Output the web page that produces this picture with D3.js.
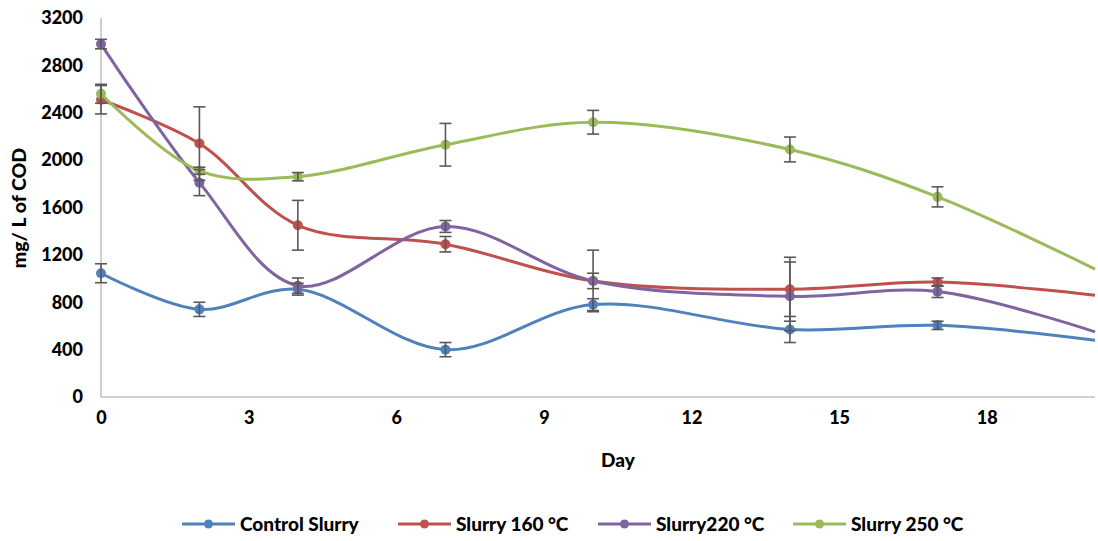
<html lang="en">
<head>
<style>
  body { margin: 0; background: #fff; }
  text { font-family: Lato, "Open Sans", sans-serif; font-weight: bold; fill: #000; }
</style>
</head>
<body>
<script src="https://d3js.org/d3.v7.min.js"></script>
<script>
    // data
    var days = [0, 2, 4, 7, 10, 14, 17, 20.2];
    var seriesNames = ["Control Slurry", "Slurry 160 \u00b0C", "Slurry220 \u00b0C", "Slurry 250 \u00b0C"];
    var control = [1045, 740, 910, 400, 780, 570, 605, 480];
    var slurry160 = [2510, 2140, 1450, 1290, 980, 910, 970, 860];
    var slurry220 = [2980, 1810, 940, 1440, 980, 850, 890, 550];
    var slurry250 = [2560, 1910, 1860, 2130, 2320, 2090, 1690, 1080];
    // error bars (+/-), last value has none
    var controlErr = [80, 60, 50, 60, 50, 110, 35, 0];
    var slurry160Err = [120, 310, 210, 65, 260, 270, 35, 0];
    var slurry220Err = [40, 110, 65, 50, 65, 290, 50, 0];
    var slurry250Err = [80, 30, 35, 180, 100, 105, 85, 0];
    var xTicks = [0, 3, 6, 9, 12, 15, 18];
    var yTicks = [0, 400, 800, 1200, 1600, 2000, 2400, 2800, 3200];

    var colors = ["#4F81BD", "#C0504D", "#8064A2", "#9BBB59"];
    var values = [control, slurry160, slurry220, slurry250];
    var errs = [controlErr, slurry160Err, slurry220Err, slurry250Err];

    var width = 1098, height = 541;
    var mLeft = 101, mRight = 1095, mTop = 18, mBottom = 397;

    var svg = d3.select("body").append("svg")
        .attr("width", width)
        .attr("height", height);

    var x = d3.scaleLinear().domain([0, 20.2]).range([mLeft, mRight]);
    var y = d3.scaleLinear().domain([0, 3200]).range([mBottom, mTop]);

    // axes
    var yAxis = svg.append("g")
        .attr("transform", "translate(" + mLeft + ",0)")
        .call(d3.axisLeft(y).tickValues(yTicks).tickFormat(d3.format("d")).tickSize(0).tickPadding(18));
    var xAxis = svg.append("g")
        .attr("transform", "translate(0," + mBottom + ")")
        .call(d3.axisBottom(x).tickValues(xTicks).tickFormat(d3.format("d")).tickSize(0).tickPadding(14));
    svg.selectAll(".domain").attr("stroke", "#BFBFBF").attr("stroke-width", 1.5);
    yAxis.select(".domain").attr("d", "M0," + mBottom + "V" + mTop);
    xAxis.select(".domain").attr("d", "M" + mLeft + ",0H" + mRight);
    svg.selectAll(".tick text").style("font-size", "18px").attr("fill", "#000")
        .style("font-family", "Lato, sans-serif").style("font-weight", "900");

    svg.append("text")
        .attr("x", 618).attr("y", 467)
        .attr("text-anchor", "middle")
        .style("font-size", "19px")
        .style("font-weight", "900")
        .text("Day");

    svg.append("text")
        .attr("transform", "translate(26,208) rotate(-90)")
        .attr("text-anchor", "middle")
        .style("font-size", "19.5px")
        .style("font-weight", "900")
        .text("mg/ L of COD");

    var line = d3.line()
        .x(function(d) { return x(d[0]); })
        .y(function(d) { return y(d[1]); })
        .curve(d3.curveCatmullRom.alpha(0.5));

    values.forEach(function(vals, s) {
        var pts = days.map(function(d, i) { return [d, vals[i], errs[s][i]]; });
        var g = svg.append("g");
        g.append("path")
            .datum(pts)
            .attr("fill", "none")
            .attr("stroke", colors[s])
            .attr("stroke-width", 3)
            .attr("d", line);
        var marked = pts.slice(0, pts.length - 1);
        g.selectAll("circle")
            .data(marked)
            .enter().append("circle")
            .attr("cx", function(d) { return x(d[0]); })
            .attr("cy", function(d) { return y(d[1]); })
            .attr("r", 5)
            .attr("fill", colors[s]);
    });

    // error bars drawn on top
    values.forEach(function(vals, s) {
        var pts = days.map(function(d, i) { return [d, vals[i], errs[s][i]]; })
            .filter(function(d) { return d[2] > 0; });
        var g = svg.append("g").attr("stroke", "#595959").attr("stroke-width", 1.6);
        pts.forEach(function(d) {
            var cx = x(d[0]), y1 = y(d[1] + d[2]), y2 = y(d[1] - d[2]);
            g.append("line").attr("x1", cx).attr("x2", cx).attr("y1", y1).attr("y2", y2);
            g.append("line").attr("x1", cx - 6).attr("x2", cx + 6).attr("y1", y1).attr("y2", y1);
            g.append("line").attr("x1", cx - 6).attr("x2", cx + 6).attr("y1", y2).attr("y2", y2);
        });
    });

    // legend
    var legendX = [182, 398, 598, 793];
    var legend = svg.append("g");
    seriesNames.forEach(function(name, s) {
        var lx = legendX[s];
        legend.append("line")
            .attr("x1", lx).attr("x2", lx + 53)
            .attr("y1", 524).attr("y2", 524)
            .attr("stroke", colors[s]).attr("stroke-width", 3);
        legend.append("circle")
            .attr("cx", lx + 26.5).attr("cy", 524).attr("r", 4.5)
            .attr("fill", colors[s]);
        legend.append("text")
            .attr("x", lx + 58).attr("y", 531)
            .style("font-size", "19px")
            .style("font-weight", "900")
            .text(name);
    });
</script>
</body>
</html>
